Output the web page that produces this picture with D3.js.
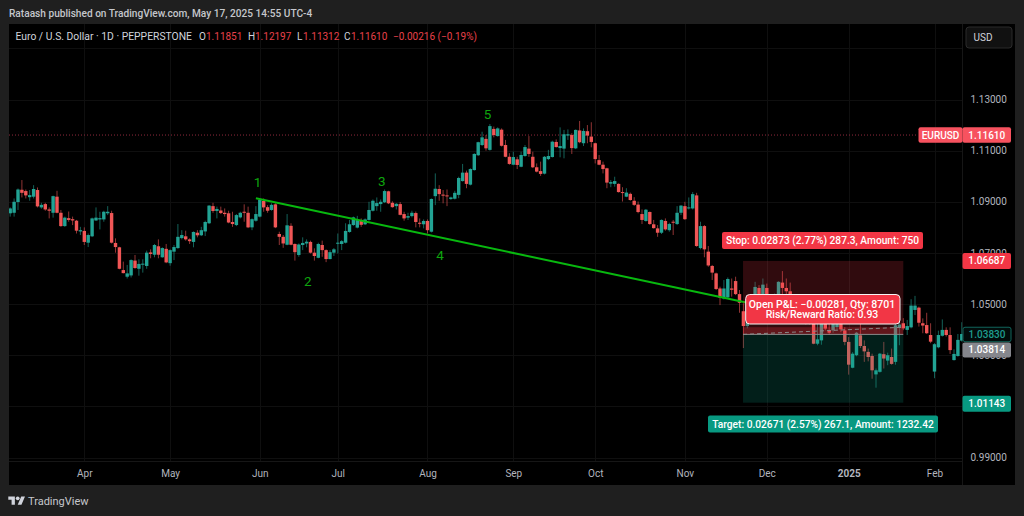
<!DOCTYPE html>
<html lang="en">

<head>
    <meta charset="UTF-8">
    <title>EURUSD 1D</title>
    <script src="https://d3js.org/d3.v7.min.js"></script>
    <style>
        html, body { margin: 0; padding: 0; background: #1f1f1f; overflow: hidden; }
        svg { display: block; }
        text { font-family: Roboto, sans-serif; }
        .tick line { display: none; }
        .domain { display: none; }
    </style>
</head>

<body>
    <svg width="1024" height="516"></svg>

    <script>
        // Daily candles
        const opens = [
            1.0855,1.0857,1.0899,1.0947,1.0942,1.0918,1.0920,1.0946,1.0878,1.0891,
            1.0870,1.0857,1.0920,1.0857,1.0805,1.0836,1.0832,1.0826,1.0784,1.0786,
            1.0740,1.0765,1.0827,1.0831,1.0831,1.0855,1.0856,1.0739,1.0722,1.0633,
            1.0607,1.0612,1.0670,1.0638,1.0654,1.0649,1.0702,1.0693,1.0726,1.0683,
            1.0716,1.0660,1.0705,1.0719,1.0758,1.0765,1.0753,1.0743,1.0779,1.0769,
            1.0784,1.0816,1.0883,1.0864,1.0866,1.0857,1.0855,1.0821,1.0809,1.0839,
            1.0861,1.0857,1.0800,1.0826,1.0842,1.0903,1.0879,1.0868,1.0890,1.0774,
            1.0763,1.0732,1.0806,1.0735,1.0692,1.0731,1.0737,1.0743,1.0701,1.0681,
            1.0731,1.0711,1.0676,1.0701,1.0736,1.0735,1.0740,1.0782,1.0809,1.0799,
            1.0825,1.0812,1.0829,1.0865,1.0883,1.0891,1.0898,1.0941,1.0896,1.0883,
            1.0891,1.0852,1.0838,1.0844,1.0856,1.0818,1.0812,1.0825,1.0783,1.0922,
            1.0950,1.0928,1.0925,1.0911,1.0912,1.0927,1.0981,1.1014,1.0967,1.1024,
            1.1082,1.1122,1.1146,1.1103,1.1185,1.1157,1.1182,1.1122,1.1076,1.1045,
            1.1066,1.1037,1.1079,1.1108,1.1076,1.1035,1.1020,1.1010,1.1067,1.1075,
            1.1134,1.1110,1.1108,1.1159,1.1161,1.1109,1.1179,1.1129,1.1176,1.1155,
            1.1129,1.1063,1.1045,1.1031,1.0971,1.0970,1.0970,1.0938,1.0920,1.0931,
            1.0904,1.0889,1.0852,1.0825,1.0860,1.0812,1.0796,1.0779,1.0825,1.0789,
            1.0822,1.0813,1.0857,1.0883,1.0875,1.0874,1.0925,1.0719,1.0805,1.0705,
            1.0649,1.0620,1.0561,1.0522,1.0526,1.0561,1.0590,1.0539,1.0472,1.0414,
            1.0457,1.0516,1.0563,1.0516,1.0563,1.0524,1.0469,1.0477,1.0584,1.0563,
            1.0550,1.0510,1.0490,1.0440,1.0480,1.0460,1.0470,1.0345,1.0358,1.0450,
            1.0397,1.0397,1.0410,1.0455,1.0397,1.0352,1.0251,1.0300,1.0378,1.0336,
            1.0313,1.0297,1.0225,1.0235,1.0304,1.0279,1.0293,1.0274,1.0407,1.0425,
            1.0399,1.0409,1.0477,1.0486,1.0425,1.0418,1.0379,1.0236,1.0331,1.0376,
            1.0399,1.0379,1.0281,1.0297,1.0357
        ];
        const highs = [
            1.0878,1.0913,1.0952,1.0985,1.0948,1.0946,1.0965,1.0956,1.0896,1.0896,
            1.0878,1.0924,1.0943,1.0868,1.0842,1.0862,1.0842,1.0829,1.0802,1.0800,
            1.0776,1.0838,1.0878,1.0861,1.0865,1.0883,1.0865,1.0757,1.0724,1.0666,
            1.0653,1.0675,1.0692,1.0675,1.0675,1.0709,1.0714,1.0735,1.0753,1.0722,
            1.0735,1.0714,1.0731,1.0813,1.0789,1.0787,1.0757,1.0784,1.0789,1.0802,
            1.0826,1.0887,1.0896,1.0881,1.0881,1.0874,1.0865,1.0861,1.0852,1.0861,
            1.0890,1.0881,1.0835,1.0883,1.0913,1.0913,1.0887,1.0894,1.0894,1.0783,
            1.0770,1.0852,1.0816,1.0737,1.0737,1.0761,1.0753,1.0748,1.0718,1.0740,
            1.0748,1.0714,1.0711,1.0719,1.0776,1.0750,1.0816,1.0829,1.0842,1.0845,
            1.0835,1.0835,1.0900,1.0909,1.0917,1.0909,1.0948,1.0943,1.0902,1.0895,
            1.0899,1.0861,1.0857,1.0865,1.0862,1.0835,1.0831,1.0831,1.0913,1.1011,
            1.0965,1.0946,1.0948,1.0920,1.0943,1.0998,1.1048,1.1022,1.1031,1.1090,
            1.1135,1.1174,1.1161,1.1204,1.1194,1.1191,1.1187,1.1142,1.1090,1.1096,
            1.1076,1.1096,1.1122,1.1157,1.1096,1.1050,1.1057,1.1079,1.1103,1.1139,
            1.1144,1.1191,1.1181,1.1183,1.1168,1.1183,1.1216,1.1187,1.1200,1.1211,
            1.1131,1.1083,1.1057,1.1033,1.0985,1.0998,1.0972,1.0957,1.0953,1.0936,
            1.0918,1.0901,1.0870,1.0872,1.0862,1.0829,1.0809,1.0831,1.0835,1.0818,
            1.0829,1.0883,1.0887,1.0900,1.0917,1.0938,1.0935,1.0822,1.0809,1.0727,
            1.0653,1.0623,1.0568,1.0594,1.0604,1.0600,1.0607,1.0555,1.0503,1.0516,
            1.0535,1.0587,1.0574,1.0600,1.0580,1.0535,1.0541,1.0589,1.0629,1.0600,
            1.0584,1.0530,1.0515,1.0500,1.0505,1.0480,1.0490,1.0423,1.0475,1.0480,
            1.0440,1.0470,1.0490,1.0480,1.0410,1.0371,1.0312,1.0391,1.0423,1.0358,
            1.0326,1.0306,1.0248,1.0309,1.0352,1.0310,1.0326,1.0423,1.0430,1.0445,
            1.0438,1.0519,1.0532,1.0490,1.0444,1.0466,1.0425,1.0347,1.0396,1.0440,
            1.0409,1.0409,1.0323,1.0383,1.0429
        ];
        const lows = [
            1.0842,1.0842,1.0868,1.0917,1.0913,1.0904,1.0913,1.0878,1.0873,1.0865,
            1.0835,1.0838,1.0855,1.0802,1.0802,1.0822,1.0809,1.0776,1.0770,1.0731,
            1.0723,1.0762,1.0825,1.0792,1.0822,1.0848,1.0737,1.0701,1.0636,1.0620,
            1.0600,1.0604,1.0638,1.0611,1.0623,1.0638,1.0679,1.0683,1.0679,1.0681,
            1.0660,1.0650,1.0672,1.0716,1.0753,1.0748,1.0735,1.0722,1.0761,1.0766,
            1.0766,1.0813,1.0857,1.0835,1.0852,1.0842,1.0816,1.0802,1.0805,1.0835,
            1.0822,1.0797,1.0789,1.0822,1.0839,1.0861,1.0857,1.0865,1.0797,1.0731,
            1.0720,1.0730,1.0730,1.0670,1.0685,1.0711,1.0722,1.0698,1.0670,1.0679,
            1.0685,1.0664,1.0675,1.0688,1.0698,1.0711,1.0737,1.0779,1.0806,1.0796,
            1.0802,1.0809,1.0826,1.0862,1.0865,1.0861,1.0895,1.0891,1.0877,1.0870,
            1.0847,1.0826,1.0829,1.0839,1.0800,1.0800,1.0796,1.0776,1.0780,1.0887,
            1.0904,1.0894,1.0883,1.0907,1.0909,1.0914,1.0979,1.0953,1.0964,1.1022,
            1.1079,1.1118,1.1100,1.1100,1.1152,1.1155,1.1116,1.1074,1.1045,1.1043,
            1.1028,1.1035,1.1076,1.1076,1.1032,1.1015,1.1001,1.1007,1.1063,1.1073,
            1.1112,1.1074,1.1070,1.1142,1.1087,1.1106,1.1129,1.1118,1.1129,1.1113,
            1.1050,1.1043,1.1011,1.0953,1.0957,1.0959,1.0936,1.0901,1.0918,1.0904,
            1.0884,1.0855,1.0813,1.0822,1.0810,1.0795,1.0763,1.0774,1.0787,1.0783,
            1.0770,1.0809,1.0848,1.0829,1.0870,1.0870,1.0724,1.0714,1.0683,1.0646,
            1.0594,1.0555,1.0496,1.0518,1.0522,1.0529,1.0535,1.0466,1.0328,1.0405,
            1.0438,1.0496,1.0500,1.0496,1.0490,1.0460,1.0450,1.0470,1.0516,1.0510,
            1.0500,1.0450,1.0430,1.0430,1.0420,1.0420,1.0343,1.0339,1.0341,1.0397,
            1.0380,1.0388,1.0400,1.0390,1.0339,1.0224,1.0249,1.0296,1.0328,1.0274,
            1.0276,1.0208,1.0173,1.0232,1.0248,1.0261,1.0263,1.0263,1.0339,1.0398,
            1.0379,1.0405,1.0457,1.0412,1.0386,1.0383,1.0347,1.0210,1.0327,1.0373,
            1.0373,1.0305,1.0279,1.0294,1.0353
        ];
        const closes = [
            1.0874,1.0900,1.0948,1.0935,1.0925,1.0926,1.0950,1.0882,1.0888,1.0870,
            1.0865,1.0922,1.0857,1.0805,1.0838,1.0829,1.0827,1.0787,1.0789,1.0743,
            1.0770,1.0835,1.0838,1.0836,1.0861,1.0861,1.0740,1.0723,1.0638,1.0621,
            1.0620,1.0672,1.0641,1.0657,1.0658,1.0701,1.0696,1.0731,1.0693,1.0719,
            1.0663,1.0711,1.0723,1.0763,1.0770,1.0753,1.0746,1.0782,1.0769,1.0789,
            1.0821,1.0885,1.0864,1.0872,1.0856,1.0852,1.0819,1.0813,1.0848,1.0857,
            1.0857,1.0800,1.0832,1.0852,1.0907,1.0878,1.0865,1.0888,1.0800,1.0763,
            1.0737,1.0808,1.0732,1.0703,1.0733,1.0739,1.0744,1.0701,1.0688,1.0735,
            1.0711,1.0676,1.0703,1.0714,1.0740,1.0746,1.0786,1.0812,1.0839,1.0829,
            1.0810,1.0831,1.0868,1.0904,1.0895,1.0900,1.0942,1.0894,1.0879,1.0892,
            1.0849,1.0835,1.0844,1.0857,1.0821,1.0814,1.0825,1.0789,1.0911,1.0951,
            1.0930,1.0924,1.0921,1.0917,1.0935,1.0993,1.1014,1.0970,1.1028,1.1087,
            1.1133,1.1152,1.1109,1.1196,1.1161,1.1187,1.1119,1.1076,1.1048,1.1075,
            1.1044,1.1083,1.1114,1.1087,1.1035,1.1018,1.1009,1.1076,1.1079,1.1135,
            1.1114,1.1118,1.1164,1.1164,1.1110,1.1181,1.1133,1.1177,1.1159,1.1134,
            1.1067,1.1045,1.1028,1.0975,1.0977,1.0981,1.0938,1.0936,1.0936,1.0907,
            1.0888,1.0860,1.0829,1.0869,1.0813,1.0797,1.0779,1.0829,1.0792,1.0813,
            1.0819,1.0857,1.0885,1.0832,1.0878,1.0930,1.0727,1.0805,1.0714,1.0651,
            1.0623,1.0559,1.0525,1.0561,1.0598,1.0556,1.0539,1.0505,1.0414,1.0496,
            1.0516,1.0567,1.0516,1.0576,1.0516,1.0477,1.0528,1.0587,1.0563,1.0550,
            1.0524,1.0465,1.0445,1.0480,1.0435,1.0430,1.0345,1.0362,1.0455,1.0404,
            1.0388,1.0450,1.0460,1.0401,1.0352,1.0263,1.0306,1.0388,1.0336,1.0315,
            1.0293,1.0241,1.0241,1.0306,1.0287,1.0300,1.0266,1.0417,1.0420,1.0405,
            1.0414,1.0494,1.0494,1.0427,1.0416,1.0386,1.0353,1.0343,1.0379,1.0399,
            1.0379,1.0320,1.0305,1.0360,1.0383
        ];

        // Axis ticks (1.01000 sits fully under the target tag in the picture)
        const priceTicks = [1.13, 1.11, 1.09, 1.07, 1.05, 1.03, 0.99];
        const priceGrid = [1.15, 1.13, 1.11, 1.09, 1.07, 1.05, 1.03, 1.01, 0.99];
        const monthBars = [19, 41, 64, 84, 107, 129, 150, 173, 194, 215, 237];
        const monthNames = ["Apr", "May", "Jun", "Jul", "Aug", "Sep", "Oct", "Nov", "Dec", "2025", "Feb"];

        // Drawings on the chart
        const trendBars = [63, 189];
        const trendPrices = [1.0914, 1.0505];
        const waveNames = ["1", "2", "3", "4", "5"];
        const waveBars = [63.4, 76.3, 95.3, 110.2, 122.4];
        const wavePrices = [1.0977, 1.0590, 1.0981, 1.0689, 1.1243];
        const positionBars = [187.9, 229];
        const entry = 1.03814, stop = 1.06687, target = 1.01143, posClose = 1.04095;
        const lastPrice = 1.11610;
        const lastOpenClose = 1.03830;

        const upColor = "#22a394";
        const downColor = "#f05656";

        const svg = d3.select("svg");

        const paneLeft = 9, paneRight = 1015, paneTop = 24, paneBottom = 485;
        const axisX = 962.5, axisY = 461.5;

        const x = d3.scaleLinear().domain([0, 244]).range([10.2, 961.8]);
        const y = d3.scaleLinear().domain([1.13, 0.99]).range([99.5, 457.5]);

        svg.append("rect").attr("x", paneLeft).attr("y", paneTop)
            .attr("width", paneRight - paneLeft).attr("height", paneBottom - paneTop)
            .attr("fill", "#000");

        svg.append("defs").append("clipPath").attr("id", "plot").append("rect")
            .attr("x", paneLeft).attr("y", paneTop)
            .attr("width", axisX - paneLeft).attr("height", axisY - paneTop);

        // Grid
        const grid = svg.append("g").attr("stroke", "#0f0f0f").attr("stroke-width", 1);
        grid.selectAll(".gy").data(priceGrid).join("line").attr("class", "gy")
            .attr("x1", paneLeft).attr("x2", axisX)
            .attr("y1", d => Math.round(y(d)) + 0.5).attr("y2", d => Math.round(y(d)) + 0.5);
        grid.selectAll(".gx").data(monthBars).join("line").attr("class", "gx")
            .attr("x1", d => Math.round(x(d)) + 0.5).attr("x2", d => Math.round(x(d)) + 0.5)
            .attr("y1", paneTop).attr("y2", axisY);

        svg.append("line").attr("x1", axisX).attr("x2", axisX).attr("y1", paneTop).attr("y2", paneBottom)
            .attr("stroke", "#161616");
        svg.append("line").attr("x1", paneLeft).attr("x2", axisX).attr("y1", axisY).attr("y2", axisY)
            .attr("stroke", "#161616");

        const plot = svg.append("g").attr("clip-path", "url(#plot)");

        // Last price dotted line
        plot.append("line")
            .attr("x1", paneLeft).attr("x2", 918).attr("y1", y(lastPrice)).attr("y2", y(lastPrice))
            .attr("stroke", "#8f2a3c").attr("stroke-width", 1).attr("stroke-dasharray", "1 2");

        // Candles
        const candles = plot.append("g").selectAll("g").data(opens).join("g");
        candles.append("line")
            .attr("x1", (d, i) => x(i)).attr("x2", (d, i) => x(i))
            .attr("y1", (d, i) => y(highs[i])).attr("y2", (d, i) => y(lows[i]))
            .attr("stroke", (d, i) => closes[i] >= d ? upColor : downColor)
            .attr("stroke-opacity", 0.6)
            .attr("stroke-width", 1);
        candles.append("rect")
            .attr("x", (d, i) => x(i) - 1.7)
            .attr("width", 3.4)
            .attr("y", (d, i) => y(Math.max(d, closes[i])))
            .attr("height", (d, i) => Math.max(1, Math.abs(y(d) - y(closes[i]))))
            .attr("fill", (d, i) => closes[i] >= d ? upColor : downColor);

        // Long trend line
        plot.append("line")
            .attr("x1", x(trendBars[0])).attr("x2", x(trendBars[1]))
            .attr("y1", y(trendPrices[0])).attr("y2", y(trendPrices[1]))
            .attr("stroke", "#08b80f").attr("stroke-width", 2);

        // Wave numbers
        plot.selectAll(".wave").data(waveNames).join("text").attr("class", "wave")
            .attr("x", (d, i) => x(waveBars[i])).attr("y", (d, i) => y(wavePrices[i]))
            .attr("dy", "0.35em").attr("text-anchor", "middle")
            .attr("font-size", 13.5).attr("fill", "#0ea50e")
            .text(d => d);

        // Position tool
        const px0 = x(positionBars[0]), px1 = x(positionBars[1]);
        plot.append("rect").attr("x", px0).attr("width", px1 - px0)
            .attr("y", y(stop)).attr("height", y(entry) - y(stop))
            .attr("fill", "#f23645").attr("fill-opacity", 0.2);
        plot.append("rect").attr("x", px0).attr("width", px1 - px0)
            .attr("y", y(entry)).attr("height", y(target) - y(entry))
            .attr("fill", "#089981").attr("fill-opacity", 0.2);
        plot.append("rect").attr("x", px0).attr("width", px1 - px0)
            .attr("y", y(posClose)).attr("height", y(entry) - y(posClose))
            .attr("fill", "#f23645").attr("fill-opacity", 0.25);
        plot.append("line").attr("x1", px0).attr("x2", px1)
            .attr("y1", y(entry)).attr("y2", y(entry))
            .attr("stroke", "#8a8a8a");
        plot.append("line").attr("x1", px0).attr("x2", px1)
            .attr("y1", y(entry)).attr("y2", y(posClose))
            .attr("stroke", "#8a8a8a").attr("stroke-dasharray", "4 3");

        // Price and time axes
        const priceAxis = svg.append("g")
            .attr("transform", `translate(${axisX},0)`)
            .call(d3.axisRight(y).tickValues(priceTicks).tickFormat(d3.format(".5f")).tickSize(0).tickPadding(8));
        priceAxis.selectAll("text").attr("fill", "#b2b5be").attr("font-size", 10);

        const timeAxis = svg.append("g")
            .attr("transform", `translate(0,${axisY})`)
            .call(d3.axisBottom(x).tickValues(monthBars).tickFormat((d, i) => monthNames[i]).tickSize(0).tickPadding(8));
        timeAxis.selectAll("text").attr("fill", "#b2b5be").attr("font-size", 10)
            .attr("font-weight", (d, i) => monthNames[i] === "2025" ? 700 : 400);

        // Tag helper for the labels on the chart and the price scale
        function tag(x0, x1, cy, h, fill, text, textFill, stroke, size) {
            svg.append("rect").attr("x", x0).attr("y", cy - h / 2)
                .attr("width", x1 - x0).attr("height", h).attr("rx", 2)
                .attr("fill", fill).attr("stroke", stroke || "none");
            svg.append("text").attr("x", (x0 + x1) / 2).attr("y", cy).attr("dy", "0.35em")
                .attr("text-anchor", "middle").attr("font-size", size || 10)
                .attr("font-weight", 500).attr("fill", textFill || "#fff")
                .text(text);
        }

        tag(722, 923, 240.5, 17, "#f23645", "Stop: 0.02873 (2.77%) 287.3, Amount: 750", null, null, 10.2);
        tag(708, 938, 424, 17, "#089981", "Target: 0.02671 (2.57%) 267.1, Amount: 1232.42", null, null, 10.2);

        tag(918.5, 962.5, y(lastPrice), 15.5, "#f7525f", "EURUSD");
        tag(962.5, 1011, y(lastPrice), 15.5, "#f7525f", d3.format(".5f")(lastPrice));
        tag(962.5, 1011, y(stop), 16, "#f23645", d3.format(".5f")(stop));
        tag(963, 1011, y(lastOpenClose) + 0.5, 14.5, "#020c0b", d3.format(".5f")(lastOpenClose), "#1f9d8f", "#11655b");
        tag(962.5, 1011, y(entry) + 15.6, 15, "#85868c", d3.format(".5f")(entry));
        tag(962.5, 1011, y(target) + 1, 16, "#089981", d3.format(".5f")(target));

        // Open P&L box
        svg.append("rect").attr("x", 745.7).attr("y", 294.5).attr("width", 154.3).attr("height", 29.5)
            .attr("rx", 4).attr("fill", "#f23645").attr("stroke", "#f5f5f5").attr("stroke-width", 1);
        svg.selectAll(".pnl").data(["Open P&L: \u22120.00281, Qty: 8701", "Risk/Reward Ratio: 0.93"]).join("text")
            .attr("class", "pnl")
            .attr("x", 822).attr("y", (d, i) => 304 + i * 10.5).attr("dy", "0.35em")
            .attr("text-anchor", "middle").attr("font-size", 10.5).attr("font-weight", 500).attr("fill", "#fff")
            .text(d => d);

        // USD button
        svg.append("rect").attr("x", 966).attr("y", 27).attr("width", 46).attr("height", 21).attr("rx", 3)
            .attr("fill", "#111").attr("stroke", "#2b2b2b");
        svg.append("text").attr("x", 983).attr("y", 37.5).attr("dy", "0.35em").attr("text-anchor", "middle")
            .attr("font-size", 10).attr("fill", "#d1d4dc").text("USD");

        // Header
        svg.append("text").attr("x", 9).attr("y", 13).attr("dy", "0.35em")
            .attr("font-size", 10.15).attr("font-weight", 500).attr("fill", "#c5c7cc")
            .text("Rataash published on TradingView.com, May 17, 2025 14:55 UTC-4");

        // Legend row
        const legendRed = "#e8404a", legendGrey = "#d1d4dc";
        const legendItems = [
            [15.5, "Euro / U.S. Dollar \u00b7 1D \u00b7 PEPPERSTONE", legendGrey, 10.35],
            [199, "O", legendGrey, 10], [206, "1.11851", legendRed, 10],
            [248, "H", legendGrey, 10], [255, "1.12197", legendRed, 10],
            [297, "L", legendGrey, 10], [303, "1.11312", legendRed, 10],
            [344, "C", legendGrey, 10], [351, "1.11610", legendRed, 10],
            [393, "\u22120.00216 (\u22120.19%)", legendRed, 10]
        ];
        svg.selectAll(".legend").data(legendItems).join("text").attr("class", "legend")
            .attr("x", d => d[0]).attr("y", 36.5).attr("dy", "0.35em")
            .attr("font-size", d => d[3]).attr("fill", d => d[2])
            .text(d => d[1]);

        // Footer logo
        const logo = svg.append("g").attr("transform", "translate(8.3,494.5) scale(0.47)").attr("fill", "#d1d4dc");
        logo.append("path").attr("d", "M14 22H7V11H0V4h14v18zM28 22h-8l7.5-18h8L28 22z");
        logo.append("circle").attr("cx", 20).attr("cy", 8).attr("r", 4);
        svg.append("text").attr("x", 28).attr("y", 501).attr("dy", "0.35em")
            .attr("font-size", 11).attr("fill", "#c5c7cc")
            .text("TradingView");
    </script>
</body>

</html>
